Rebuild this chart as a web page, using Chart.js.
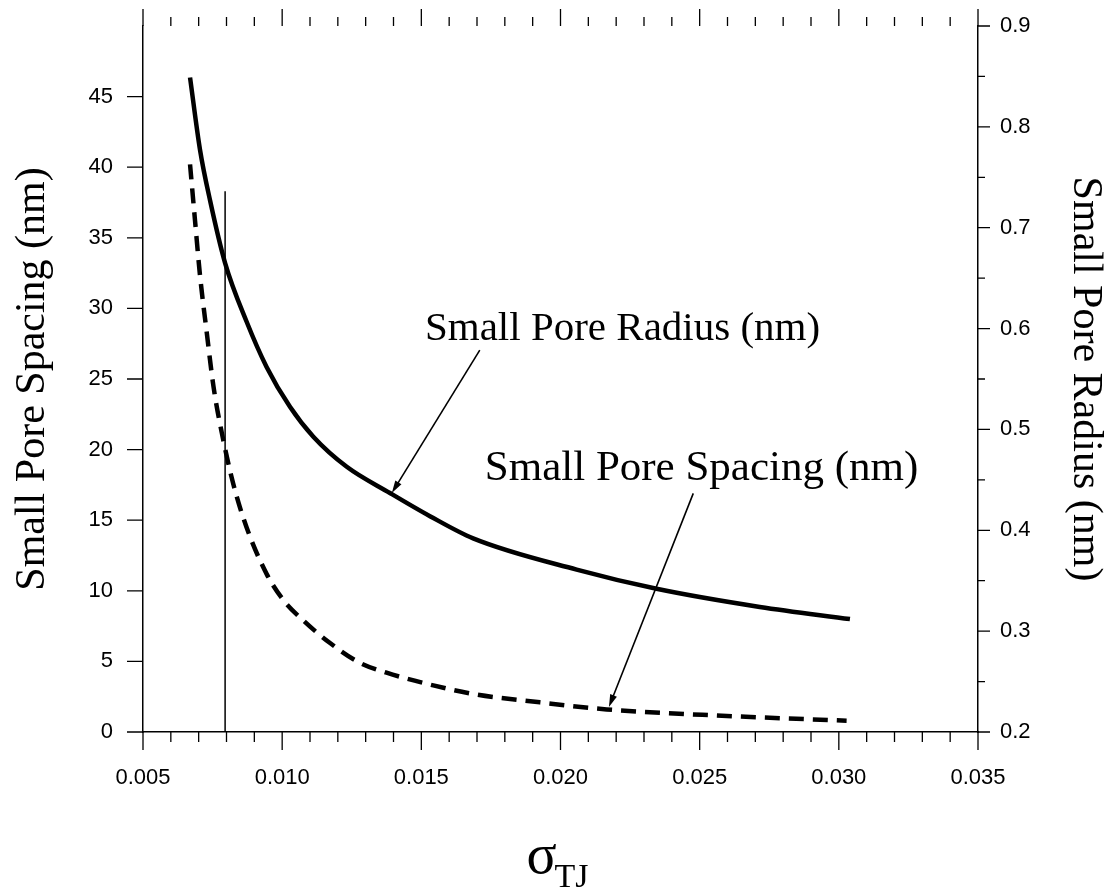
<!DOCTYPE html>
<html>
<head>
<meta charset="utf-8">
<script src="https://cdn.jsdelivr.net/npm/chart.js@4"></script>
<style>
  html, body { margin: 0; padding: 0; background: #fff; }
  canvas { display: block; }
</style>
</head>
<body>
<canvas id="chart" width="1109" height="891"></canvas>
<script>
// values
const radiusSigma = [0.00669, 0.00705, 0.00741, 0.00795, 0.00872, 0.00944, 0.01028, 0.01112, 0.01232, 0.01387, 0.01531, 0.01686, 0.02058, 0.02345, 0.02716, 0.0304];
const radiusNm = [0.849, 0.777, 0.727, 0.665, 0.607, 0.562, 0.5225, 0.4928, 0.463, 0.437, 0.414, 0.392, 0.361, 0.342, 0.324, 0.312];

const spacingSigma = [0.00669, 0.00687, 0.00705, 0.00729, 0.00753, 0.00783, 0.00824, 0.00872, 0.00944, 0.01004, 0.01076, 0.01172, 0.01279, 0.01375, 0.01543, 0.01699, 0.01926, 0.02166, 0.0258, 0.03028];
const spacingNm = [40.2, 36.2, 32.3, 28.3, 24.5, 21.2, 17.6, 14.5, 11.2, 9.35, 7.9, 6.3, 4.9, 4.2, 3.3, 2.65, 2.1, 1.6, 1.15, 0.8];

const markerSigma = [0.00795, 0.00795];
const markerNm = [0, 38.3];

const xTicks = [0.005, 0.010, 0.015, 0.020, 0.025, 0.030, 0.035];
const leftTicks = [0, 5, 10, 15, 20, 25, 30, 35, 40, 45];
const rightTicks = [0.2, 0.3, 0.4, 0.5, 0.6, 0.7, 0.8, 0.9];

const SERIF = "'Liberation Serif', 'Times New Roman', serif";
const SANS = "'Liberation Sans', Arial, sans-serif";

const toPoints = (xs, ys) => xs.map((x, i) => ({ x, y: ys[i] }));

const notes = [
    { text: 'Small Pore Radius (nm)', size: 41, at: [0.01513, 27.76], from: [0.01710, 27.05], to: [0.01394, 16.93] },
    { text: 'Small Pore Spacing (nm)', size: 43, at: [0.01728, 17.85], from: [0.02477, 16.9], to: [0.02174, 1.77] }
];

const drawArrow = (ctx, x1, y1, x2, y2) => {
    const ang = Math.atan2(y2 - y1, x2 - x1);
    const len = 13, spread = 0.28;
    ctx.beginPath();
    ctx.moveTo(x1, y1);
    ctx.lineTo(x2 - Math.cos(ang) * len * 0.6, y2 - Math.sin(ang) * len * 0.6);
    ctx.stroke();
    ctx.beginPath();
    ctx.moveTo(x2, y2);
    ctx.lineTo(x2 - len * Math.cos(ang - spread), y2 - len * Math.sin(ang - spread));
    ctx.lineTo(x2 - len * Math.cos(ang + spread), y2 - len * Math.sin(ang + spread));
    ctx.closePath();
    ctx.fill();
};

// vertical axes: fixed width, no extra label padding above/below
const fitVertical = w => s => {
    s.width = w;
    s.paddingTop = 0;
    s.paddingBottom = 0;
};

// tick marks on all four sides, plus notes and the sigma title
const framePlugin = {
    id: 'framePlugin',
    afterDraw(chart) {
        const { ctx, chartArea: a, scales: { x, y, y2 } } = chart;
        ctx.save();
        ctx.strokeStyle = '#000';
        ctx.fillStyle = '#000';
        ctx.lineWidth = 1.3;

        ctx.beginPath();
        for (let i = 5; i <= 35; i++) {
            const px = x.getPixelForValue(i / 1000);
            const major = i % 5 === 0;
            ctx.moveTo(px, a.bottom);
            ctx.lineTo(px, a.bottom + (major ? 18 : 10));
            ctx.moveTo(px, a.top);
            ctx.lineTo(px, a.top - (major ? 17 : 9));
        }
        leftTicks.forEach(v => {
            const py = y.getPixelForValue(v);
            ctx.moveTo(a.left, py);
            ctx.lineTo(a.left - 16, py);
        });
        for (let i = 4; i <= 18; i++) {
            const py = y2.getPixelForValue(i / 20);
            ctx.moveTo(a.right, py);
            ctx.lineTo(a.right + (i % 2 === 0 ? 12 : 7), py);
        }
        ctx.stroke();

        // annotations
        ctx.textBaseline = 'alphabetic';
        ctx.textAlign = 'left';
        ctx.lineWidth = 1.6;
        notes.forEach(n => {
            ctx.font = `${n.size}px ${SERIF}`;
            ctx.fillText(n.text, x.getPixelForValue(n.at[0]), y.getPixelForValue(n.at[1]));
            drawArrow(ctx,
                x.getPixelForValue(n.from[0]), y.getPixelForValue(n.from[1]),
                x.getPixelForValue(n.to[0]), y.getPixelForValue(n.to[1]));
        });

        // x axis title: sigma with TJ subscript
        const cx = (a.left + a.right) / 2;
        ctx.font = `56px ${SERIF}`;
        const wSig = ctx.measureText('σ').width;
        ctx.font = `34px ${SERIF}`;
        const wSub = ctx.measureText('TJ').width;
        const startX = cx - (wSig + wSub) / 2 - 2;
        ctx.font = `56px ${SERIF}`;
        ctx.fillText('σ', startX, 873);
        ctx.font = `34px ${SERIF}`;
        ctx.fillText('TJ', startX + wSig - 2, 887);
        ctx.restore();
    }
};

new Chart(document.getElementById('chart'), {
    type: 'line',
    data: {
        datasets: [
            {
                label: 'Small Pore Radius (nm)',
                data: toPoints(radiusSigma, radiusNm),
                yAxisID: 'y2',
                borderColor: '#000',
                borderWidth: 4.5,
                pointRadius: 0,
                cubicInterpolationMode: 'monotone'
            },
            {
                label: 'Small Pore Spacing (nm)',
                data: toPoints(spacingSigma, spacingNm),
                yAxisID: 'y',
                borderColor: '#000',
                borderWidth: 4.5,
                borderDash: [15, 9],
                pointRadius: 0,
                cubicInterpolationMode: 'monotone'
            },
            {
                label: 'marker',
                data: toPoints(markerSigma, markerNm),
                yAxisID: 'y',
                borderColor: '#000',
                borderWidth: 1.5,
                pointRadius: 0
            }
        ]
    },
    options: {
        responsive: false,
        animation: false,
        layout: { padding: { top: 26 } },
        plugins: { legend: { display: false }, tooltip: { enabled: false } },
        scales: {
            x: {
                type: 'linear',
                position: 'bottom',
                min: 0.005,
                max: 0.035,
                afterBuildTicks: s => { s.ticks = xTicks.map(v => ({ value: v })); },
                afterFit: s => { s.height = 159; s.paddingLeft = 0; s.paddingRight = 0; },
                grid: { display: false, drawTicks: false },
                border: { display: true, color: '#000', width: 1.5 },
                ticks: {
                    color: '#000',
                    padding: 33,
                    maxRotation: 0,
                    font: { family: SANS, size: 22 },
                    callback: v => v.toFixed(3)
                }
            },
            y: {
                type: 'linear',
                position: 'left',
                min: 0,
                max: 50,
                afterBuildTicks: s => { s.ticks = leftTicks.map(v => ({ value: v })); },
                afterFit: fitVertical(143),
                grid: { display: false, drawTicks: false },
                border: { display: true, color: '#000', width: 1.5 },
                ticks: { color: '#000', padding: 30, font: { family: SANS, size: 22 } },
                title: {
                    display: true,
                    text: 'Small Pore Spacing (nm)',
                    color: '#000',
                    font: { family: SERIF, size: 42, lineHeight: 1 },
                    padding: { top: 12, bottom: 0 }
                }
            },
            y2: {
                type: 'linear',
                position: 'right',
                min: 0.2,
                max: 0.9,
                afterBuildTicks: s => { s.ticks = rightTicks.map(v => ({ value: v })); },
                afterFit: fitVertical(131),
                grid: { display: false, drawTicks: false },
                border: { display: true, color: '#000', width: 1.5 },
                ticks: { color: '#000', padding: 22, font: { family: SANS, size: 22 }, callback: v => v.toFixed(1) },
                title: {
                    display: true,
                    text: 'Small Pore Radius (nm)',
                    color: '#000',
                    font: { family: SERIF, size: 42, lineHeight: 1 },
                    padding: { top: 3, bottom: 0 }
                }
            }
        }
    },
    plugins: [framePlugin]
});
</script>
</body>
</html>
